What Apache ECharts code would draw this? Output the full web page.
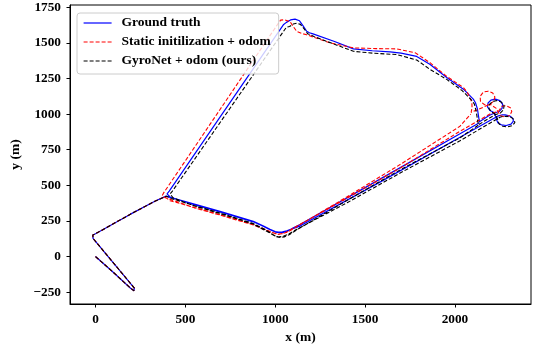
<!DOCTYPE html>
<html>
<head>
<meta charset="utf-8">
<script src="https://cdn.jsdelivr.net/npm/echarts@6/dist/echarts.min.js"></script>
<style>
  html, body { margin: 0; padding: 0; background: #fff; }
  #chart { width: 536px; height: 350px; }
</style>
</head>
<body>
<div id="chart"></div>
<script>
/* ========== 数据：轨迹点 [x, y] (m) ========== */
const seriesNames = ['Ground truth', 'Static initilization + odom', 'GyroNet + odom (ours)'];
const xTicks = [0, 500, 1000, 1500, 2000];
const yTicks = [-250, 0, 250, 500, 750, 1000, 1250, 1500, 1750];

// 起点段（三条基本重合）
const startLeg = [
    [0, 0], [100, -112], [195, -222], [205, -236], [214, -240], [221, -233], [216, -221],
    [-14, 128], [-21, 140], [-15, 151], [0, 160], [192, 296], [330, 388]
];

// ground truth
const gtPath = [
    [392, 424],
    [415, 416], [550, 368], [693, 318], [878, 248], [935, 215], [971, 192], [1000, 176], [1017, 172],
    [1040, 173], [1064, 180], [1101, 198],
    [1138, 214], [1600, 535], [2028, 838], [2242, 988],
    [2260, 994], [2279, 995], [2305, 987], [2322, 970], [2325, 950], [2312, 930], [2285, 920],
    [2258, 925], [2238, 940], [2233, 957], [2228, 980],
    [2214, 1013], [2195, 1025], [2181, 1050], [2184, 1078], [2200, 1098], [2225, 1105], [2250, 1095],
    [2265, 1070], [2262, 1040], [2245, 1018], [2220, 1008], [2190, 990],
    [2136, 946],
    [2125, 1036], [2114, 1080], [2102, 1105], [2047, 1175], [1954, 1257], [1860, 1350], [1787, 1405],
    [1700, 1428], [1639, 1437], [1540, 1445], [1435, 1458], [1330, 1510], [1210, 1563], [1190, 1571],
    [1175, 1582], [1155, 1620], [1135, 1655], [1110, 1667], [1085, 1661], [1062, 1644], [1045, 1627],
    [410, 460], [398, 440], [400, 428], [415, 418],
    [550, 364], [693, 314], [878, 244], [935, 211], [971, 188], [1000, 172], [1020, 168], [1045, 170],
    [1070, 180], [1101, 202],
    [1138, 225], [1600, 556], [2028, 862], [2136, 940]
];

// static initialization + odom
const staticPath = [
    [385, 420],
    [415, 392], [550, 345], [693, 294], [878, 225], [935, 195], [971, 176], [1000, 162], [1020, 158],
    [1045, 162], [1070, 176], [1101, 200],
    [1400, 410], [1700, 625], [2028, 880], [2200, 1005], [2242, 1020],
    [2262, 1055], [2285, 1059], [2308, 1045], [2316, 1019], [2305, 990], [2279, 979], [2255, 988],
    [2242, 1010], [2230, 1040],
    [2200, 1066], [2165, 1066], [2142, 1088], [2140, 1125], [2158, 1155], [2185, 1161], [2210, 1148],
    [2222, 1120], [2215, 1090], [2195, 1070], [2160, 1050], [2120, 1028], [2090, 1012],
    [2095, 1045], [2094, 1083], [2070, 1150], [2047, 1187], [1954, 1265], [1861, 1361], [1780, 1430],
    [1676, 1458], [1560, 1460], [1435, 1465], [1305, 1500], [1175, 1557], [1150, 1565], [1120, 1580],
    [1100, 1615], [1082, 1650], [1050, 1662], [1030, 1660], [1018, 1640], [1005, 1615],
    [378, 445], [372, 430], [385, 415],
    [550, 342], [693, 291], [878, 222], [971, 172], [1020, 155], [1070, 172], [1101, 196],
    [1400, 420], [1700, 650], [2028, 915], [2088, 1000]
];

// GyroNet + odom
const gyroPath = [
    [395, 424],
    [420, 408], [550, 358], [693, 306], [878, 232], [935, 195], [971, 168], [1000, 145], [1020, 138],
    [1045, 142], [1075, 158], [1110, 185],
    [1400, 378], [1700, 590], [2028, 813], [2250, 978],
    [2268, 984], [2287, 985], [2313, 977], [2330, 960], [2333, 940], [2320, 920], [2293, 910],
    [2266, 915], [2246, 930], [2241, 947], [2236, 970],
    [2222, 1003], [2203, 1015], [2189, 1040], [2192, 1068], [2208, 1088], [2233, 1095], [2258, 1085],
    [2273, 1060], [2270, 1030], [2253, 1008], [2228, 998], [2195, 975],
    [2130, 925],
    [2118, 1020], [2108, 1070], [2095, 1095], [2040, 1165], [1954, 1244], [1861, 1314], [1787, 1380],
    [1676, 1418], [1540, 1428], [1435, 1441], [1330, 1490], [1215, 1545], [1180, 1565], [1160, 1600],
    [1140, 1630], [1120, 1639], [1100, 1632], [1080, 1615], [1062, 1610],
    [428, 460], [415, 440], [418, 428], [432, 412],
    [550, 355], [693, 302], [878, 228], [971, 165], [1000, 142], [1025, 134], [1050, 138], [1080, 155],
    [1110, 180],
    [1400, 395], [1700, 612], [2028, 834], [2130, 922]
];

/* ========== 配置 ========== */
const FONT = "'Liberation Serif', 'DejaVu Serif', serif";
const txt = { fontFamily: FONT, fontWeight: 'bold', fontSize: 13.5, color: '#000' };
const tickFmt = v => String(v).replace('-', '\u2212');

const chart = echarts.init(document.getElementById('chart'), null, { renderer: 'canvas' });
chart.setOption({
    animation: false,
    backgroundColor: '#fff',
    grid: { left: 70, right: 5, top: 5, bottom: 43, show: true, borderColor: '#000', borderWidth: 1, backgroundColor: 'transparent' },
    legend: {
        orient: 'vertical', left: 77, top: 13,
        backgroundColor: 'rgba(255,255,255,0.8)', borderColor: '#cccccc', borderWidth: 1, borderRadius: 3,
        padding: [3, 8, 6, 6], itemGap: 5, itemWidth: 28, itemHeight: 14,
        itemStyle: { opacity: 0 },
        lineStyle: { width: 1.2 },
        textStyle: { ...txt, padding: [0, 0, 0, 5] },
        data: seriesNames
    },
    xAxis: {
        type: 'value', min: -142, max: 2423,
        name: 'x (m)', nameLocation: 'middle', nameGap: 27, nameTextStyle: txt,
        axisLine: { onZero: false, lineStyle: { color: '#000', width: 1 } },
        axisTick: { customValues: xTicks, length: 3.5, lineStyle: { color: '#000' } },
        axisLabel: { customValues: xTicks, margin: 9, ...txt, fontSize: 13.3, formatter: tickFmt },
        splitLine: { show: false }
    },
    yAxis: {
        type: 'value', min: -333, max: 1766,
        name: 'y (m)', nameLocation: 'middle', nameGap: 39, nameRotate: 90, nameTextStyle: txt,
        axisLine: { onZero: false, lineStyle: { color: '#000', width: 1 } },
        axisTick: { customValues: yTicks, length: 3.5, lineStyle: { color: '#000' } },
        axisLabel: { customValues: yTicks, margin: 9, ...txt, fontSize: 13.3, formatter: tickFmt },
        splitLine: { show: false }
    },
    series: [
        { name: seriesNames[0], type: 'line', data: startLeg.concat(gtPath), showSymbol: false, symbol: 'none',
          lineStyle: { color: '#0000ff', width: 1.2 }, itemStyle: { color: '#0000ff' } },
        { name: seriesNames[1], type: 'line', data: startLeg.concat(staticPath), showSymbol: false, symbol: 'none',
          lineStyle: { color: '#ff0000', width: 1.1, type: [4, 2] }, itemStyle: { color: '#ff0000' } },
        { name: seriesNames[2], type: 'line', data: startLeg.concat(gyroPath), showSymbol: false, symbol: 'none',
          lineStyle: { color: '#000000', width: 1.1, type: [4, 2] }, itemStyle: { color: '#000000' } }
    ]
});
</script>
</body>
</html>
